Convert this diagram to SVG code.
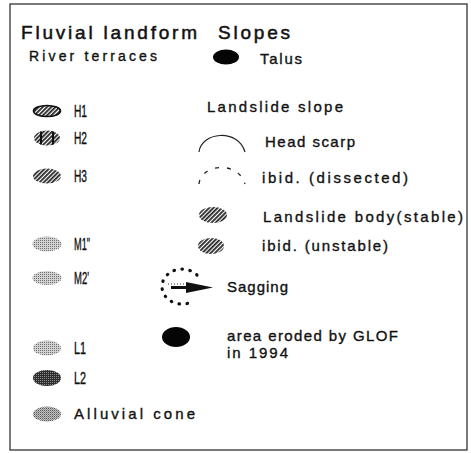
<svg xmlns="http://www.w3.org/2000/svg" width="471" height="453" viewBox="0 0 471 453">
<defs>
<pattern id="hatch" width="3" height="3" patternUnits="userSpaceOnUse" patternTransform="rotate(45)"><rect width="3" height="3" fill="#fff"/><rect width="1.8" height="3" fill="#262626"/></pattern>
<pattern id="dotL" width="2" height="2" patternUnits="userSpaceOnUse"><rect width="2" height="2" fill="#d2d2d2"/><rect width="1" height="1" fill="#707070"/></pattern>
<pattern id="dotM" width="2" height="2" patternUnits="userSpaceOnUse"><rect width="2" height="2" fill="#c4c4c4"/><rect width="1" height="1" fill="#555"/><rect x="1" y="1" width="1" height="1" fill="#8e8e8e"/></pattern>
<pattern id="dotD" width="2" height="2" patternUnits="userSpaceOnUse"><rect width="2" height="2" fill="#2e2e2e"/><rect width="1" height="1" fill="#8c8c8c"/></pattern>
</defs>
<style>
text{font-family:"Liberation Sans","DejaVu Sans",sans-serif;fill:#111;stroke:#111;stroke-width:0.35px;}
.t{font-size:19px;stroke-width:0.5px;}
.s{font-size:14px;}
.l{font-size:15px;}
.k{font-size:16px;}
.hatch{fill:url(#hatch);}
.blk{fill:#050505;}
</style>
<rect x="10" y="4" width="457" height="446" fill="#fff" stroke="#333" stroke-width="1.3"/>
<g id="titles">
<text class="t" x="21" y="39" textLength="176">Fluvial landform</text>
<text class="t" x="218" y="39" textLength="72">Slopes</text>
<text class="s" x="29" y="61" textLength="128">River terraces</text>
</g>
<g id="talus">
<ellipse class="blk" cx="226" cy="57" rx="13" ry="7.5"/>
<text class="l" x="260" y="64" textLength="42">Talus</text>
</g>
<g id="h1">
<ellipse class="hatch" cx="47" cy="111" rx="13.5" ry="5.5" stroke="#111" stroke-width="1.6"/>
<text class="k" x="74" y="117" textLength="13" lengthAdjust="spacingAndGlyphs">H1</text>
</g>
<g id="h2">
<ellipse class="hatch" cx="47" cy="138" rx="13" ry="7.5"/>
<line x1="41" y1="131.5" x2="41" y2="144.5" stroke="#111" stroke-width="2"/>
<line x1="53" y1="131.5" x2="53" y2="144.5" stroke="#111" stroke-width="2"/>
<text class="k" x="74" y="144" textLength="13" lengthAdjust="spacingAndGlyphs">H2</text>
</g>
<g id="h3">
<ellipse class="hatch" cx="47" cy="176" rx="14" ry="7.5"/>
<text class="k" x="74" y="182" textLength="13" lengthAdjust="spacingAndGlyphs">H3</text>
</g>
<g id="m1">
<ellipse fill="url(#dotL)" cx="47" cy="244" rx="14.5" ry="7.5"/>
<text class="k" x="74" y="250" textLength="16" lengthAdjust="spacingAndGlyphs">M1"</text>
</g>
<g id="m2">
<ellipse fill="url(#dotL)" cx="47" cy="278" rx="14.5" ry="7"/>
<text class="k" x="74" y="284" textLength="15" lengthAdjust="spacingAndGlyphs">M2'</text>
</g>
<g id="l1">
<ellipse fill="url(#dotL)" cx="47" cy="348" rx="14" ry="7.5"/>
<text class="k" x="74" y="354" textLength="12" lengthAdjust="spacingAndGlyphs">L1</text>
</g>
<g id="l2">
<ellipse fill="url(#dotD)" cx="47" cy="378" rx="14" ry="8"/>
<text class="k" x="74" y="384" textLength="12" lengthAdjust="spacingAndGlyphs">L2</text>
</g>
<g id="alluvial-cone">
<ellipse fill="url(#dotM)" cx="47" cy="414" rx="14" ry="7.5"/>
<text class="l" x="74" y="419" textLength="121">Alluvial cone</text>
</g>
<g id="landslide-slope">
<text class="l" x="207" y="112" textLength="136">Landslide slope</text>
</g>
<g id="head-scarp">
<path d="M199,152 C201,132 238,128 245,152" fill="none" stroke="#222" stroke-width="1.2"/>
<text class="l" x="265" y="147" textLength="90">Head scarp</text>
</g>
<g id="dissected">
<path d="M199,184 C201,164 238,160 245,184" fill="none" stroke="#222" stroke-width="1.3" stroke-dasharray="4 8"/>
<text class="l" x="262" y="183" textLength="146">ibid. (dissected)</text>
</g>
<g id="body-stable">
<ellipse class="hatch" cx="213" cy="215" rx="14" ry="8"/>
<text class="l" x="263" y="222" textLength="200">Landslide body(stable)</text>
</g>
<g id="body-unstable">
<ellipse class="hatch" cx="211" cy="246" rx="13" ry="8"/>
<text class="l" x="262" y="251" textLength="126">ibid. (unstable)</text>
</g>
<g id="sagging">
<path d="M197,275 A20,17.5 0 1 0 191.5,302" fill="none" stroke="#111" stroke-width="3.2" stroke-linecap="round" stroke-dasharray="0.5 7.5"/>
<line x1="168" y1="284" x2="188" y2="284" stroke="#333" stroke-width="1" stroke-dasharray="1 2"/>
<rect x="171" y="286" width="19" height="3" fill="#111"/>
<polygon points="186,282 213,287.5 186,293" fill="#111"/>
<text class="l" x="227" y="292" textLength="61">Sagging</text>
</g>
<g id="glof">
<ellipse class="blk" cx="176" cy="337" rx="14" ry="10"/>
<text class="l" x="227" y="341" textLength="171">area eroded by GLOF</text>
<text class="l" x="227" y="358" textLength="61">in 1994</text>
</g>
</svg>
